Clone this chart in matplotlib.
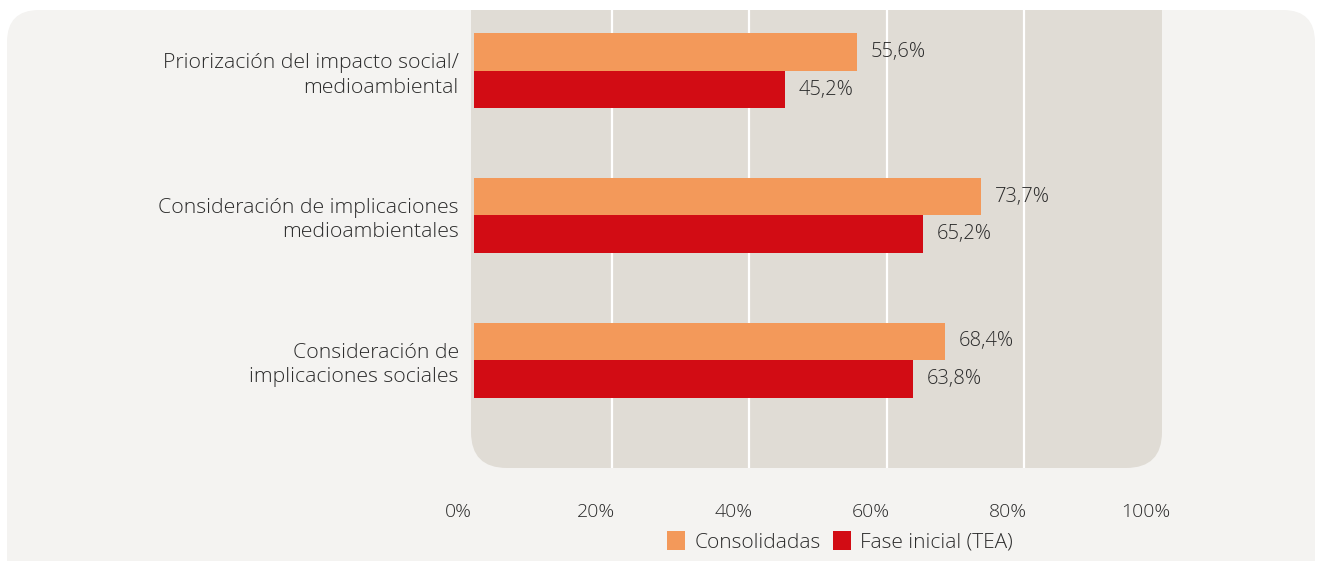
import matplotlib
matplotlib.use('Agg')
import matplotlib.pyplot as plt
from matplotlib.patches import FancyBboxPatch, Patch
from matplotlib.transforms import ScaledTranslation
import numpy as np

# 数据
categories = ["Priorización del impacto social/\nmedioambiental",
              "Consideración de implicaciones\nmedioambientales",
              "Consideración de\nimplicaciones sociales"]
consolidadas = [55.6, 73.7, 68.4]
fase_inicial = [45.2, 65.2, 63.8]
series_names = ["Consolidadas", "Fase inicial (TEA)"]
x_ticks = [0, 20, 40, 60, 80, 100]

plt.rcParams['font.family'] = ['Open Sans', 'DejaVu Sans']
txt_color = '#2b2b2b'
c_orange = '#f3995a'
c_red = '#d20c14'

W, H = 1318, 561
fig = plt.figure(figsize=(W / 100, H / 100), dpi=100)
fig.patch.set_facecolor('white')

# 外部背景
outer = FancyBboxPatch((0.07, -0.5), 13.08, 6.01, boxstyle="round,pad=0,rounding_size=0.32",
                       transform=fig.dpi_scale_trans, facecolor='#f4f3f1', edgecolor='none', zorder=-2)
fig.add_artist(outer)
# 绘图区背景
panel = FancyBboxPatch((4.71, 0.93), 6.91, 5.5, boxstyle="round,pad=0,rounding_size=0.36",
                       transform=fig.dpi_scale_trans, facecolor='#e0dcd5', edgecolor='none', zorder=-1)
fig.add_artist(panel)
panel.set_clip_path(outer)

ax = fig.add_axes([474 / W, (H - 468) / H, (1162 - 474) / W, (468 - 10) / H])
ax.patch.set_visible(False)

y = np.arange(len(categories))
h = 0.26
b1 = ax.barh(y - h / 2, consolidadas, height=h, color=c_orange, label=series_names[0], zorder=3)
b2 = ax.barh(y + h / 2, fase_inicial, height=h, color=c_red, label=series_names[1], zorder=3)

for bars, vals in [(b1, consolidadas), (b2, fase_inicial)]:
    for bar, v in zip(bars, vals):
        ax.annotate(f"{v:.1f}%".replace('.', ','), (bar.get_width(), bar.get_y() + bar.get_height() / 2),
                    xytext=(14, 0), textcoords='offset pixels', va='center', ha='left',
                    color=txt_color, fontweight='light', fontsize=14.5)

ax.set_xlim(0, 99.7)
ax.set_ylim(2.745, -0.42)
ax.set_yticks(y)
ax.set_yticklabels(categories, ha='right', color=txt_color, fontweight='light', linespacing=1.3,
                   fontsize=15.3)
ax.set_xticks(x_ticks)
ax.set_xticklabels([f"{t}%" for t in x_ticks], color=txt_color, fontweight='light', fontsize=14)
ax.tick_params(axis='both', length=0)
ax.tick_params(axis='x', pad=25)
ax.tick_params(axis='y', pad=11)
for lab in ax.get_xticklabels():
    lab.set_transform(lab.get_transform() + ScaledTranslation(-0.16, 0, fig.dpi_scale_trans))

ax.grid(axis='x', color='white', linewidth=1.6, zorder=1)
gl = ax.get_xgridlines()
gl[0].set_visible(False)
gl[-1].set_visible(False)
for s in ax.spines.values():
    s.set_visible(False)

handles = [Patch(facecolor=c_orange), Patch(facecolor=c_red)]
leg = fig.legend(handles, series_names, ncol=2, loc='center', bbox_to_anchor=(840 / W, 1 - 542 / H),
                 frameon=False, handlelength=0.85, handleheight=1.05, handletextpad=0.45, columnspacing=0.6,
                 fontsize=15)
for t in leg.get_texts():
    t.set_color(txt_color)
    t.set_fontweight('light')

fig.savefig('out.png', dpi=100, facecolor='white')
